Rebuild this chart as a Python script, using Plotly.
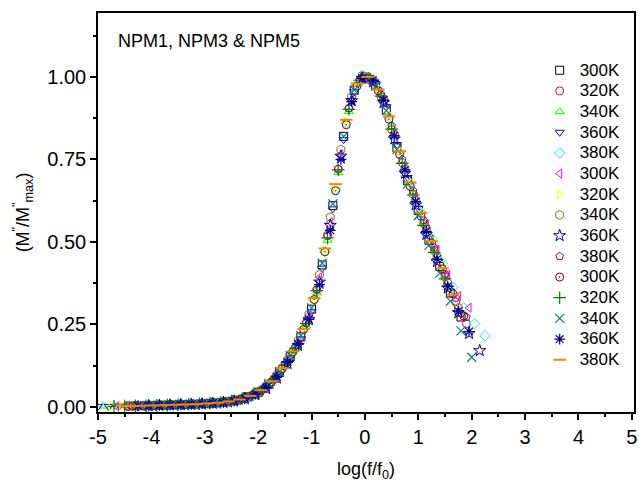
import plotly.graph_objects as go

# ---------------- data ----------------
NAMES = ["300K", "320K", "340K", "360K", "380K",
         "300K", "320K", "340K", "360K", "380K",
         "300K", "320K", "340K", "360K", "380K"]

x1 = [-4.4,-4.2,-4.0,-3.8,-3.6,-3.4,-3.2,-3.0,-2.8,-2.6,-2.4,-2.2,-2.0,-1.8,-1.6,-1.4,-1.2,-1.0,-0.8,-0.6,-0.4,-0.2,0.0,0.2,0.4,0.6,0.8,1.0,1.2,1.4,1.6,1.8]
y1 = [0.002,0.003,0.004,0.005,0.006,0.007,0.008,0.010,0.012,0.015,0.020,0.030,0.044,0.068,0.104,0.152,0.212,0.296,0.43,0.61,0.82,0.96,1.0,0.975,0.90,0.785,0.685,0.595,0.505,0.425,0.345,0.272]

x2 = [-4.3,-4.1,-3.9,-3.7,-3.5,-3.3,-3.1,-2.9,-2.7,-2.5,-2.3,-2.1,-1.9,-1.7,-1.5,-1.3,-1.1,-0.9,-0.7,-0.5,-0.3,-0.1,0.1,0.3,0.5,0.7,0.9,1.1,1.3,1.5,1.7,1.9]
y2 = [0.003,0.003,0.004,0.005,0.006,0.008,0.009,0.011,0.013,0.017,0.025,0.036,0.054,0.084,0.128,0.18,0.255,0.355,0.52,0.72,0.905,0.99,0.99,0.94,0.84,0.74,0.645,0.556,0.474,0.394,0.318,0.252]

x3 = [-4.9,-4.7,-4.5,-4.3,-4.1,-3.9,-3.7,-3.5,-3.3,-3.1,-2.9,-2.7,-2.5,-2.3,-2.1,-1.9,-1.7,-1.5,-1.3,-1.1,-0.9,-0.7,-0.5,-0.3,-0.1,0.1,0.3,0.5,0.7,0.9,1.1,1.3]
y3 = [0.002,0.002,0.003,0.003,0.004,0.004,0.005,0.006,0.007,0.009,0.011,0.014,0.018,0.024,0.034,0.051,0.080,0.122,0.175,0.245,0.345,0.505,0.71,0.895,0.985,0.998,0.95,0.85,0.745,0.648,0.556,0.472]

x4 = [-5.0,-4.8,-4.6,-4.4,-4.2,-4.0,-3.8,-3.6,-3.4,-3.2,-3.0,-2.8,-2.6,-2.4,-2.2,-2.0,-1.8,-1.6,-1.4,-1.2,-1.0,-0.8,-0.6,-0.4,-0.2,0.0,0.2,0.4,0.6,0.8,1.0,1.2]
y4 = [0.001,0.001,0.002,0.002,0.003,0.004,0.004,0.005,0.006,0.007,0.009,0.011,0.014,0.019,0.028,0.042,0.064,0.100,0.148,0.206,0.288,0.42,0.60,0.81,0.955,1.0,0.978,0.91,0.795,0.695,0.602,0.514]

x5 = [-3.95,-3.75,-3.55,-3.35,-3.15,-2.95,-2.75,-2.55,-2.35,-2.15,-1.95,-1.75,-1.55,-1.35,-1.15,-0.95,-0.75,-0.55,-0.35,-0.15,0.05,0.25,0.45,0.65,0.85,1.05,1.25,1.45,1.65,1.85,2.05,2.25]
y5 = [0.004,0.005,0.006,0.007,0.008,0.010,0.012,0.016,0.022,0.033,0.05,0.077,0.117,0.168,0.236,0.326,0.47,0.66,0.86,0.975,0.998,0.962,0.88,0.772,0.678,0.59,0.51,0.435,0.362,0.30,0.252,0.215]

x6 = [-4.65,-4.45,-4.25,-4.05,-3.85,-3.65,-3.45,-3.25,-3.05,-2.85,-2.65,-2.45,-2.25,-2.05,-1.85,-1.65,-1.45,-1.25,-1.05,-0.85,-0.65,-0.45,-0.25,-0.05,0.15,0.35,0.55,0.75,0.95,1.15,1.35,1.55,1.75,1.95]
y6 = [0.001,0.002,0.003,0.003,0.004,0.005,0.006,0.008,0.009,0.011,0.014,0.018,0.026,0.040,0.061,0.095,0.141,0.198,0.277,0.392,0.56,0.765,0.93,0.995,0.988,0.93,0.825,0.725,0.635,0.552,0.475,0.40,0.335,0.30]

x7 = [-4.75,-4.55,-4.35,-4.15,-3.95,-3.75,-3.55,-3.35,-3.15,-2.95,-2.75,-2.55,-2.35,-2.15,-1.95,-1.75,-1.55,-1.35,-1.15,-0.95,-0.75,-0.55,-0.35,-0.15,0.05,0.25,0.45,0.65,0.85,1.05,1.25,1.45]
y7 = [0.001,0.002,0.002,0.003,0.004,0.005,0.006,0.007,0.008,0.010,0.012,0.016,0.023,0.033,0.049,0.076,0.115,0.166,0.233,0.325,0.472,0.665,0.865,0.978,1.0,0.965,0.885,0.778,0.682,0.592,0.508,0.432]

x8 = [-4.45,-4.25,-4.05,-3.85,-3.65,-3.45,-3.25,-3.05,-2.85,-2.65,-2.45,-2.25,-2.05,-1.85,-1.65,-1.45,-1.25,-1.05,-0.85,-0.65,-0.45,-0.25,-0.05,0.15,0.35,0.55,0.75,0.95,1.15,1.35,1.55,1.75]
y8 = [0.002,0.003,0.003,0.004,0.005,0.006,0.008,0.009,0.011,0.014,0.019,0.027,0.041,0.062,0.096,0.142,0.2,0.28,0.40,0.575,0.78,0.94,1.005,0.99,0.93,0.825,0.72,0.625,0.538,0.455,0.375,0.30]

x9 = [-4.05,-3.85,-3.65,-3.45,-3.25,-3.05,-2.85,-2.65,-2.45,-2.25,-2.05,-1.85,-1.65,-1.45,-1.25,-1.05,-0.85,-0.65,-0.45,-0.25,-0.05,0.15,0.35,0.55,0.75,0.95,1.15,1.35,1.55,1.75,1.95,2.15]
y9 = [0.003,0.004,0.005,0.006,0.007,0.008,0.010,0.013,0.017,0.024,0.036,0.055,0.087,0.131,0.186,0.264,0.378,0.55,0.76,0.928,0.996,0.985,0.922,0.812,0.708,0.612,0.522,0.44,0.36,0.285,0.222,0.17]

x10 = [-4.3,-4.1,-3.9,-3.7,-3.5,-3.3,-3.1,-2.9,-2.7,-2.5,-2.3,-2.1,-1.9,-1.7,-1.5,-1.3,-1.1,-0.9,-0.7,-0.5,-0.3,-0.1,0.1,0.3,0.5,0.7,0.9,1.1,1.3,1.5,1.7,1.9]
y10 = [0.003,0.003,0.004,0.005,0.006,0.008,0.009,0.011,0.013,0.018,0.025,0.036,0.055,0.085,0.128,0.18,0.254,0.356,0.518,0.722,0.905,0.99,0.995,0.948,0.852,0.75,0.655,0.565,0.482,0.402,0.33,0.272]

x11 = [-4.35,-4.15,-3.95,-3.75,-3.55,-3.35,-3.15,-2.95,-2.75,-2.55,-2.35,-2.15,-1.95,-1.75,-1.55,-1.35,-1.15,-0.95,-0.75,-0.55,-0.35,-0.15,0.05,0.25,0.45,0.65,0.85,1.05,1.25,1.45,1.65,1.85]
y11 = [0.002,0.003,0.004,0.005,0.006,0.007,0.008,0.010,0.012,0.016,0.022,0.032,0.049,0.075,0.115,0.166,0.234,0.325,0.47,0.655,0.855,0.972,0.998,0.958,0.872,0.765,0.668,0.578,0.495,0.418,0.342,0.275]

x12 = [-4.7,-4.5,-4.3,-4.1,-3.9,-3.7,-3.5,-3.3,-3.1,-2.9,-2.7,-2.5,-2.3,-2.1,-1.9,-1.7,-1.5,-1.3,-1.1,-0.9,-0.7,-0.5,-0.3,-0.1,0.1,0.3,0.5,0.7,0.9,1.1,1.3,1.5]
y12 = [0.001,0.002,0.003,0.003,0.004,0.005,0.006,0.008,0.009,0.011,0.013,0.017,0.024,0.036,0.054,0.083,0.126,0.178,0.252,0.352,0.512,0.718,0.902,0.99,0.994,0.942,0.842,0.738,0.642,0.55,0.468,0.388]

x13 = [-4.2,-4.0,-3.8,-3.6,-3.4,-3.2,-3.0,-2.8,-2.6,-2.4,-2.2,-2.0,-1.8,-1.6,-1.4,-1.2,-1.0,-0.8,-0.6,-0.4,-0.2,0.0,0.2,0.4,0.6,0.8,1.0,1.2,1.4,1.6,1.8,2.0]
y13 = [0.003,0.004,0.005,0.006,0.007,0.008,0.010,0.012,0.015,0.021,0.030,0.045,0.069,0.106,0.155,0.216,0.30,0.435,0.615,0.82,0.96,1.0,0.972,0.898,0.78,0.675,0.58,0.49,0.405,0.32,0.23,0.15]

x14 = [-4.25,-4.05,-3.85,-3.65,-3.45,-3.25,-3.05,-2.85,-2.65,-2.45,-2.25,-2.05,-1.85,-1.65,-1.45,-1.25,-1.05,-0.85,-0.65,-0.45,-0.25,-0.05,0.15,0.35,0.55,0.75,0.95,1.15,1.35,1.55,1.75,1.95]
y14 = [0.003,0.003,0.004,0.005,0.006,0.007,0.009,0.011,0.013,0.017,0.025,0.038,0.058,0.09,0.135,0.19,0.265,0.37,0.535,0.75,0.925,0.995,0.99,0.93,0.822,0.718,0.622,0.532,0.448,0.365,0.29,0.228]

x15 = [-4.55,-4.35,-4.15,-3.95,-3.75,-3.55,-3.35,-3.15,-2.95,-2.75,-2.55,-2.35,-2.15,-1.95,-1.75,-1.55,-1.35,-1.15,-0.95,-0.75,-0.55,-0.35,-0.15,0.05,0.25,0.45,0.65,0.85,1.05,1.25,1.45,1.65]
y15 = [0.002,0.002,0.003,0.004,0.005,0.006,0.007,0.008,0.010,0.012,0.016,0.022,0.033,0.05,0.077,0.117,0.168,0.236,0.33,0.48,0.675,0.87,0.98,1.0,0.962,0.88,0.775,0.68,0.588,0.502,0.42,0.34]

X_SERIES = [x1, x2, x3, x4, x5, x6, x7, x8, x9, x10, x11, x12, x13, x14, x15]
Y_SERIES = [y1, y2, y3, y4, y5, y6, y7, y8, y9, y10, y11, y12, y13, y14, y15]

X_TICKS = [-5, -4, -3, -2, -1, 0, 1, 2, 3, 4, 5]
X_TICK_TEXT = ["-5", "-4", "-3", "-2", "-1", "0", "1", "2", "3", "4", "5"]
Y_TICKS = [0.0, 0.25, 0.5, 0.75, 1.0]
Y_TICK_TEXT = ["0.00", "0.25", "0.50", "0.75", "1.00"]

# ---------------- styles ----------------
SYMBOLS = ["square-open", "circle-open", "triangle-up-open", "triangle-down-open", "diamond-open",
           "triangle-left-open", "triangle-right-open", "hexagon-open", "star-open", "pentagon-open",
           "circle-open-dot", "cross-thin-open", "x-thin-open", "asterisk-open", "line-ew-open"]
COLORS = ["#000000", "#FF0000", "#00FF00", "#0000FF", "#00FFFF",
          "#FF00FF", "#FFFF00", "#808000", "#000080", "#800080",
          "#800000", "#008000", "#008080", "#0000A0", "#FF8000"]
SIZES = [8, 8, 8, 8, 8, 8, 8, 9, 9, 8, 8, 9, 9, 9, 9]
LWIDTH = [1, 1, 1, 1, 1, 1, 1, 1, 1, 1, 1, 1.2, 1.2, 1.2, 2]

FONT = "Arial, 'Liberation Sans', sans-serif"

fig = go.Figure()
for i in range(15):
    fig.add_trace(go.Scatter(
        x=X_SERIES[i], y=Y_SERIES[i], mode="markers",
        name='<span style="font-size:17px">' + NAMES[i] + "</span>",
        marker=dict(symbol=SYMBOLS[i], size=SIZES[i], color=COLORS[i],
                    line=dict(color=COLORS[i], width=LWIDTH[i])),
    ))

fig.add_annotation(text="NPM1, NPM3 & NPM5", xref="paper", yref="paper",
                   x=0.033, y=0.93, xanchor="left", yanchor="middle",
                   showarrow=False, font=dict(family=FONT, size=18, color="black"))

axis_common = dict(showline=True, linecolor="black", linewidth=1.5, mirror=True,
                   ticks="outside", ticklen=6, tickwidth=1.5, tickcolor="black",
                   showgrid=False, zeroline=False,
                   tickfont=dict(family=FONT, size=20, color="black"))

fig.update_xaxes(range=[-5, 5.04], tickmode="array", tickvals=X_TICKS, ticktext=X_TICK_TEXT,
                 minor=dict(ticks="outside", ticklen=3, tickwidth=1.5, tickcolor="black", dtick=0.5, tick0=0),
                 title=dict(text="log(f/f<sub>0</sub>)", font=dict(family=FONT, size=18, color="black"),
                            standoff=16),
                 **axis_common)
fig.update_yaxes(range=[-0.016, 1.194], tickmode="array", tickvals=Y_TICKS, ticktext=Y_TICK_TEXT,
                 minor=dict(ticks="outside", ticklen=3, tickwidth=1.5, tickcolor="black", dtick=0.125, tick0=0),
                 title=dict(text="(M<sup>\"</sup>/M<sup>\"</sup><sub>max</sub>)",
                            font=dict(family=FONT, size=18, color="black"), standoff=13),
                 **axis_common)

fig.update_layout(
    width=639, height=484,
    margin=dict(l=98, r=3, t=13, b=72),
    paper_bgcolor="white", plot_bgcolor="white",
    font=dict(family=FONT, color="black"),
    showlegend=True,
    legend=dict(x=0.824, y=0.895, xanchor="left", yanchor="top",
                bgcolor="rgba(0,0,0,0)", borderwidth=0,
                font=dict(family=FONT, size=13.6, color="black"),
                itemsizing="trace", tracegroupgap=0),
)

fig.write_html("out.html", config={"displayModeBar": False})
